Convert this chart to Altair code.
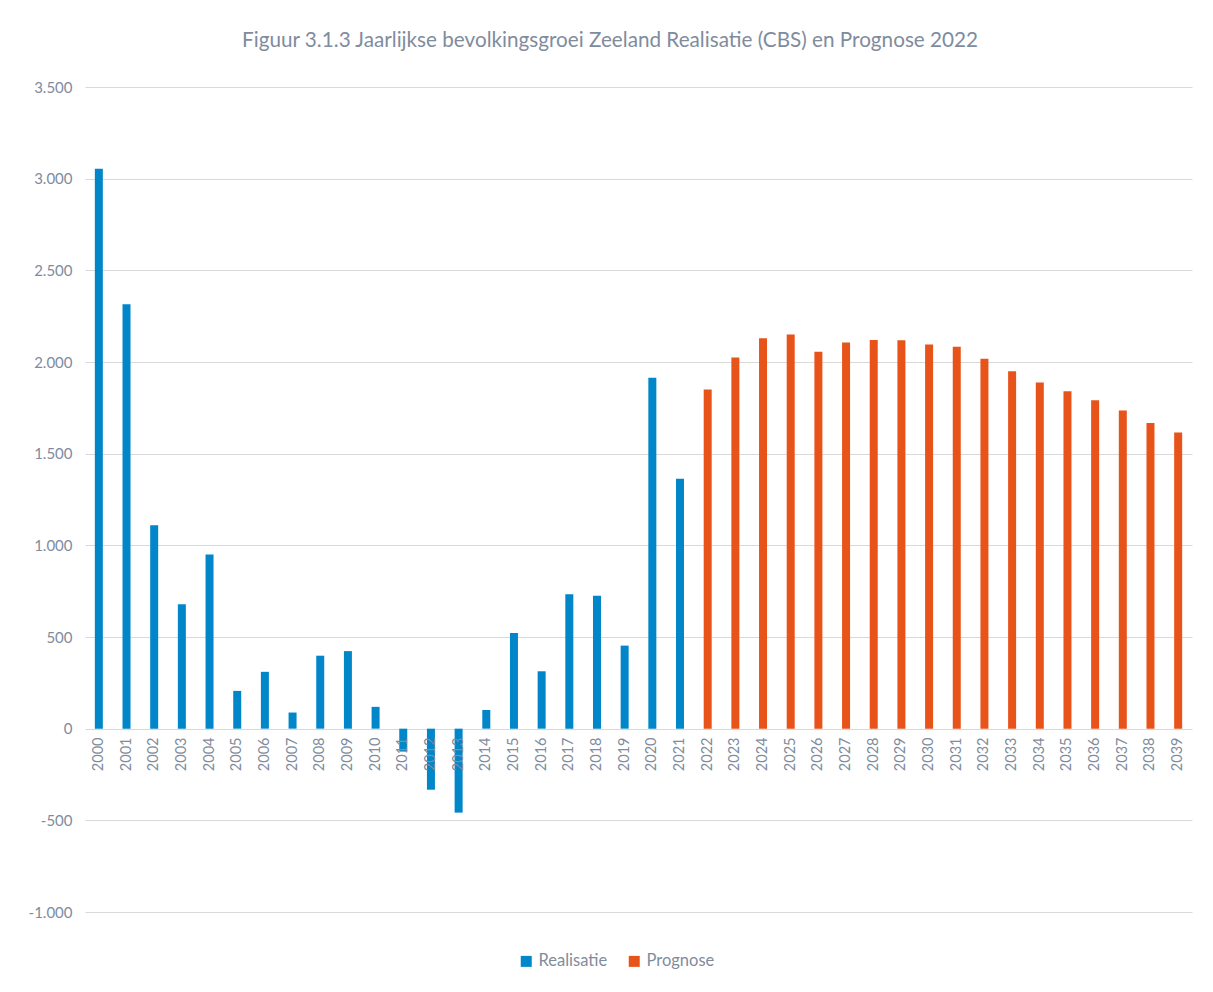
import altair as alt
import pandas as pd

years = [str(y) for y in range(2000, 2040)]
realisatie = [3054, 2315, 1110, 679, 950, 206, 310, 88, 398, 423, 119,
              -125, -333, -458, 102, 522, 313, 733, 725, 453, 1914, 1363]
prognose = [1850, 2024, 2130, 2150, 2056, 2107, 2120, 2118, 2096, 2083,
            2018, 1949, 1888, 1841, 1792, 1736, 1667, 1616]
series = ["Realisatie", "Prognose"]
colors = ["#0086C9", "#E8531A"]
y_ticks = [-1000, -500, 0, 500, 1000, 1500, 2000, 2500, 3000, 3500]

values = realisatie + prognose
types = [series[0]] * len(realisatie) + [series[1]] * len(prognose)
df = pd.DataFrame({"jaar": years, "groei": values, "type": types})

grey = "#7F8C9D"
font = "Lato"

label_expr = ("(datum.value < 0 ? '-' : '') + "
              "replace(format(abs(datum.value), ','), ',', '.')")

chart = alt.Chart(df).mark_bar(size=8).encode(
    x=alt.X("jaar:N", sort=years, title=None,
            scale=alt.Scale(paddingInner=0, paddingOuter=0),
            axis=alt.Axis(labelAngle=270, labelAlign="right", labelBaseline="middle",
                          ticks=False, domain=False, offset=-183,
                          labelPadding=8, labelFontSize=14.5, labelColor=grey,
                          labelFont=font, zindex=1)),
    y=alt.Y("groei:Q", title=None,
            scale=alt.Scale(domain=[-1000, 3500], nice=False, zero=False),
            axis=alt.Axis(values=y_ticks, labelExpr=label_expr, ticks=False,
                          domain=False, labelPadding=13, labelFontSize=15,
                          labelColor=grey, labelFont=font,
                          gridColor="#D9D9D9", gridWidth=1)),
    color=alt.Color("type:N", title=None,
                    scale=alt.Scale(domain=series, range=colors),
                    legend=alt.Legend(orient="none", legendX=433, legendY=866,
                                      direction="horizontal", symbolType="square",
                                      symbolSize=121, symbolStrokeWidth=0,
                                      labelFontSize=16.5, labelColor=grey,
                                      labelFont=font, columnPadding=18,
                                      labelOffset=4, symbolOpacity=1)),
).properties(
    width=1107,
    height=825,
    title=alt.Title("Figuur 3.1.3 Jaarlijkse bevolkingsgroei Zeeland Realisatie (CBS) en Prognose 2022",
                    fontSize=20.7, fontWeight="normal", color=grey, font=font,
                    anchor="middle", frame="bounds", offset=28),
    padding={"left": 20, "top": 22, "right": 8, "bottom": 20},
).configure_view(stroke=None)

chart.save("out.html", embed_options={"renderer": "svg", "actions": False})
